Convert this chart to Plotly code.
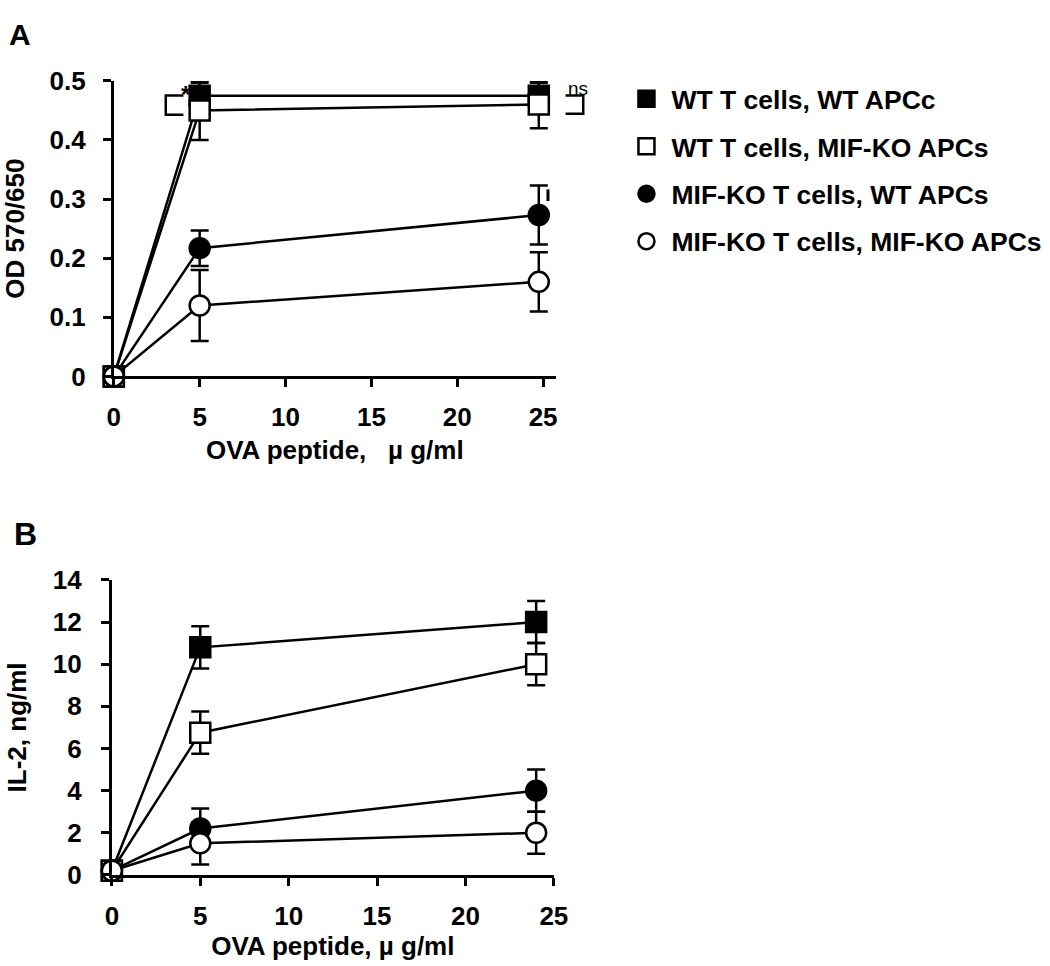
import plotly.graph_objects as go

# ---------------- data ----------------
series_names = ["WT T cells, WT APCc", "WT T cells, MIF-KO APCs",
                "MIF-KO T cells, WT APCs", "MIF-KO T cells, MIF-KO APCs"]

# Panel A: proliferation (OD 570/650)
dose_a = [0, 5, 24.75]
od_wt_wt = [0, 0.475, 0.475]
od_wt_ko = [0, 0.45, 0.46]
od_ko_wt = [0, 0.217, 0.273]
od_ko_ko = [0, 0.12, 0.16]
od_err_wt_wt = [0, 0.022, 0.022]
od_err_wt_ko = [0, 0.05, 0.04]
od_err_ko_wt = [0, 0.03, 0.05]
od_err_ko_ko = [0, 0.06, 0.05]

# Panel B: IL-2 (ng/ml)
dose_b = [0, 5, 24]
il2_wt_wt = [0.2, 10.8, 12.0]
il2_wt_ko = [0.2, 6.75, 10.0]
il2_ko_wt = [0.2, 2.2, 4.0]
il2_ko_ko = [0.2, 1.5, 2.0]
il2_err_wt_wt = [0, 1.0, 1.0]
il2_err_wt_ko = [0, 1.0, 1.0]
il2_err_ko_wt = [0, 0.95, 1.0]
il2_err_ko_ko = [0, 1.0, 1.0]

x_ticks = [0, 5, 10, 15, 20, 25]
a_y_ticks = [0, 0.1, 0.2, 0.3, 0.4, 0.5]
a_y_labels = ["0", "0.1", "0.2", "0.3", "0.4", "0.5"]
b_y_ticks = [0, 2, 4, 6, 8, 10, 12, 14]

# ---------------- style ----------------
FONT = "Liberation Sans, Arial, Helvetica, sans-serif"
styles = [
    dict(symbol="square", color="black", size=20),
    dict(symbol="square", color="white", size=20),
    dict(symbol="circle", color="black", size=20),
    dict(symbol="circle", color="white", size=20),
]

fig = go.Figure()

def add_series(x, ys, errs, xa, ya):
    for name, y, e, st in zip(series_names, ys, errs, styles):
        fig.add_trace(go.Scatter(
            x=x, y=y, mode="lines+markers", name=name, showlegend=False,
            xaxis=xa, yaxis=ya, cliponaxis=False,
            line=dict(color="black", width=2.5),
            marker=dict(symbol=st["symbol"], color=st["color"], size=st["size"],
                        line=dict(color="black", width=2.5)),
            error_y=dict(type="data", array=e, visible=True,
                         color="black", thickness=2.5, width=9),
        ))

add_series(dose_a, [od_wt_wt, od_wt_ko, od_ko_wt, od_ko_ko],
           [od_err_wt_wt, od_err_wt_ko, od_err_ko_wt, od_err_ko_ko], "x", "y")
add_series(dose_b, [il2_wt_wt, il2_wt_ko, il2_ko_wt, il2_ko_ko],
           [il2_err_wt_wt, il2_err_wt_ko, il2_err_ko_wt, il2_err_ko_ko], "x2", "y2")

# legend-only entries (markers only)
for i, (name, st) in enumerate(zip(series_names, styles)):
    fig.add_trace(go.Scatter(
        x=[None], y=[None], mode="markers", name=name, legendgroup=f"g{i}",
        xaxis="x", yaxis="y",
        marker=dict(symbol=st["symbol"], color=st["color"], size=22,
                    line=dict(color="black", width=2.5)),
    ))

W, H = 1050, 966
def px(xp):
    return xp / W
def py(yp):
    return 1 - yp / H

FS = 26
axis_common = dict(
    showline=True, linecolor="black", linewidth=3,
    ticks="outside", ticklen=8, tickwidth=3, tickcolor="black",
    showgrid=False, zeroline=False,
    tickfont=dict(family=FONT, size=FS, color="black", weight="bold"),
)
title_font = dict(family=FONT, size=FS, color="black", weight="bold")

fig.update_layout(
    width=W, height=H,
    margin=dict(l=0, r=0, t=0, b=0),
    paper_bgcolor="white", plot_bgcolor="white",
    showlegend=True,
    legend=dict(x=px(627), y=py(62), xanchor="left", yanchor="top",
                itemwidth=40,
                font=dict(family=FONT, size=26.5, color="black", weight="bold"),
                tracegroupgap=10, bgcolor="rgba(0,0,0,0)"),
    xaxis=dict(domain=[px(109), px(560)], range=[0, 25.74],
               tickvals=x_ticks, anchor="y", ticklabelstandoff=7,
               title=dict(text="OVA peptide,   \u00b5 g/ml", font=title_font, standoff=11),
               **axis_common),
    yaxis=dict(domain=[py(373), py(68)], range=[0, 0.5],
               tickvals=a_y_ticks, ticktext=a_y_labels, anchor="x",
               ticklabelstandoff=12,
               title=dict(text="OD 570/650", font=title_font, standoff=25),
               **axis_common),
    xaxis2=dict(domain=[px(107), px(558)], range=[0, 25],
                tickvals=x_ticks, anchor="y2", ticklabelstandoff=8,
                title=dict(text="OVA peptide, \u00b5 g/ml", font=title_font, standoff=3),
                **axis_common),
    yaxis2=dict(domain=[py(887.5), py(583)], range=[0, 14],
                tickvals=b_y_ticks, anchor="x2", ticklabelstandoff=14,
                title=dict(text="IL-2, ng/ml", font=title_font, standoff=19),
                **axis_common),
)

# panel letters
fig.add_annotation(text="A", x=px(0), y=py(1), xref="paper", yref="paper",
                   xanchor="left", yanchor="top", showarrow=False,
                   font=dict(family=FONT, size=30, color="black", weight="bold"))
fig.add_annotation(text="B", x=px(5), y=py(515), xref="paper", yref="paper",
                   xanchor="left", yanchor="top", showarrow=False,
                   font=dict(family=FONT, size=32, color="black", weight="bold"))

# significance brackets
fig.add_shape(type="path", xref="paper", yref="paper",
              path=f"M {px(180)} {py(83)} L {px(162)} {py(83)} L {px(162)} {py(103)} L {px(180)} {py(103)}",
              line=dict(color="black", width=2.5))
fig.add_annotation(text="*", x=px(176), y=py(66), xref="paper", yref="paper",
                   showarrow=False, font=dict(family=FONT, size=24, color="black", weight="bold"))
fig.add_shape(type="path", xref="paper", yref="paper",
              path=f"M {px(570)} {py(83)} L {px(588)} {py(83)} L {px(588)} {py(102)} L {px(570)} {py(102)}",
              line=dict(color="black", width=2.5))
fig.add_annotation(text="ns", x=px(583), y=py(63), xref="paper", yref="paper",
                   showarrow=False, font=dict(family=FONT, size=19, color="black"))
# small stray tick mark next to the 25 ug/ml error bar in panel A
fig.add_shape(type="line", xref="paper", yref="paper",
              x0=px(552), x1=px(552), y0=py(180), y1=py(192),
              line=dict(color="black", width=3))

fig.write_html("out.html", config={"displayModeBar": False},
               post_script="document.body.style.margin='0';document.body.style.padding='0';")
